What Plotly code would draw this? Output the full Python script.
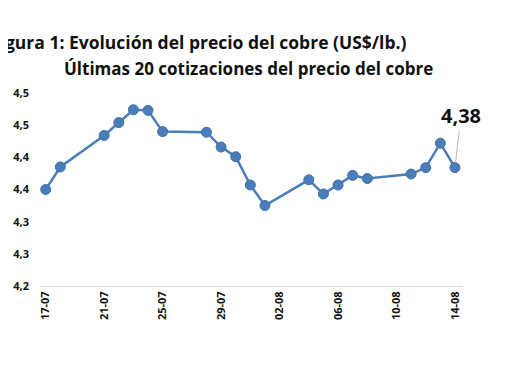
import plotly.graph_objects as go

dates = ["2025-07-17", "2025-07-18", "2025-07-21", "2025-07-22", "2025-07-23",
         "2025-07-24", "2025-07-25", "2025-07-28", "2025-07-29", "2025-07-30",
         "2025-07-31", "2025-08-01", "2025-08-04", "2025-08-05", "2025-08-06",
         "2025-08-07", "2025-08-08", "2025-08-11", "2025-08-12", "2025-08-13",
         "2025-08-14"]
prices = [4.350, 4.385, 4.434, 4.454, 4.474, 4.473, 4.440, 4.439, 4.416, 4.401,
          4.357, 4.325, 4.365, 4.343, 4.357, 4.372, 4.367, 4.374, 4.384, 4.422,
          4.384]

x_tick_vals = ["2025-07-17", "2025-07-21", "2025-07-25", "2025-07-29",
               "2025-08-02", "2025-08-06", "2025-08-10", "2025-08-14"]
x_tick_text = ["17-07", "21-07", "25-07", "29-07", "02-08", "06-08", "10-08", "14-08"]
y_tick_vals = [4.20, 4.25, 4.30, 4.35, 4.40, 4.45, 4.50]
y_tick_text = ["4,2", "4,3", "4,3", "4,4", "4,4", "4,5", "4,5"]

title_text = "Figura 1: Evolución del precio del cobre (US$/lb.)"
subtitle_text = "Últimas 20 cotizaciones del precio del cobre"

FONT = "Open Sans"
BLUE = "#4a7ebb"

fig = go.Figure()
fig.add_trace(go.Scatter(
    x=dates, y=prices, mode="lines+markers",
    line=dict(color=BLUE, width=2.5),
    marker=dict(size=10, color=BLUE, line=dict(color="#41709f", width=1)),
    hoverinfo="skip", showlegend=False,
))

last_label = f"{prices[-1]:.2f}".replace(".", ",")
fig.add_annotation(
    x=dates[-1], y=prices[-1], xref="x", yref="y",
    text=f"<b>{last_label}</b>", showarrow=True,
    ax=6, ay=-52, arrowhead=0, arrowwidth=0.8, arrowcolor="#a6a6a6",
    standoff=5, font=dict(family=FONT, size=20, color="#111111"),
)
fig.add_annotation(
    x=0.87, y=1.264, xref="paper", yref="paper", xanchor="right", yanchor="middle",
    text=f"<b>{title_text}</b>", showarrow=False,
    font=dict(family=FONT, size=17.5, color="#111111"),
)
fig.add_annotation(
    x=0.492, y=1.1295, xref="paper", yref="paper", xanchor="center", yanchor="middle",
    text=f"<b>{subtitle_text}</b>", showarrow=False,
    font=dict(family=FONT, size=17, color="#111111"),
)

fig.update_layout(
    width=510, height=366,
    margin=dict(l=32, r=55, t=85, b=88, autoexpand=False),
    paper_bgcolor="white", plot_bgcolor="white",
    font=dict(family=FONT, color="#111111"),
    xaxis=dict(
        type="date", range=["2025-07-16 14:38", "2025-08-14 13:12"],
        tickvals=x_tick_vals, ticktext=[f"<b>{t}</b>" for t in x_tick_text],
        tickangle=-90, tickfont=dict(family=FONT, size=11, color="#111111"),
        showgrid=False, showline=True, linecolor="#d9d9d9", linewidth=1,
        ticks="", zeroline=False, automargin=False,
    ),
    yaxis=dict(
        range=[4.20, 4.50], tickvals=y_tick_vals,
        ticktext=[f"<b>{t}</b>" for t in y_tick_text],
        tickfont=dict(family=FONT, size=11, color="#111111"),
        showgrid=False, showline=False, ticks="", zeroline=False,
        ticklabelstandoff=10, automargin=False,
    ),
)

fig.write_html("out.html")
